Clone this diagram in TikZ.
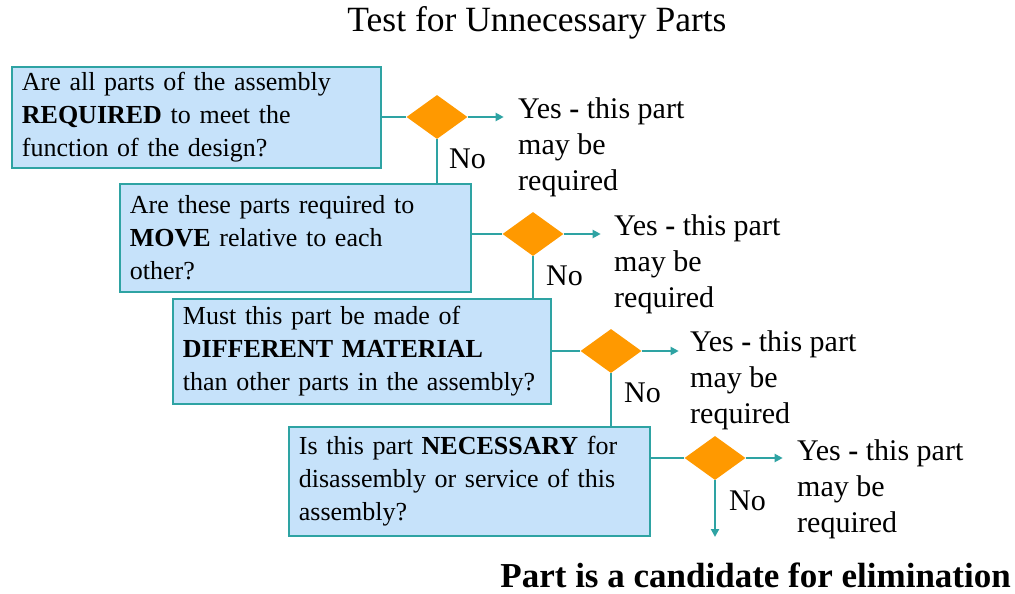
\documentclass[tikz,border=0pt]{standalone}
\usepackage{fontspec}
\setmainfont{Liberation Serif}
\usetikzlibrary{shapes.geometric,arrows.meta}
\definecolor{boxfill}{HTML}{C6E2FA}
\definecolor{teal1}{HTML}{2EA3A3}
\definecolor{orng}{HTML}{FF9900}
\tikzset{
  qbox/.style={draw=teal1, line width=1.8pt, fill=boxfill, anchor=north west, inner xsep=10pt, inner ysep=0pt, align=left, font=\fontsize{26}{33}\selectfont},
  dec/.style={diamond, fill=orng, inner sep=0pt, minimum width=61pt, minimum height=44pt},
  conn/.style={draw=teal1, line width=2pt},
  arr/.style={conn, -{Triangle[length=8pt,width=8pt]}},
  yes/.style={anchor=west, inner sep=0pt, align=left, font=\fontsize{30}{36}\selectfont},
  nolab/.style={anchor=west, inner sep=0pt, font=\fontsize{30}{34}\selectfont},
}
\begin{document}
\begin{tikzpicture}[x=1pt,y=-1pt]
\useasboundingbox (0,0) rectangle (1015,594);
\node[inner sep=0pt, font=\fontsize{35.5}{40}\selectfont] (title) at (537,23) {Test for Unnecessary Parts};

\node[qbox, text width=349pt, minimum height=101pt] (b1) at (11,66) {Are all parts of the assembly\\\textbf{REQUIRED} to meet the\\function of the design?};
\node[qbox, text width=331pt, minimum height=108pt] (b2) at (119,183) {Are these parts required to\\\textbf{MOVE} relative to each\\other?};
\node[qbox, text width=358pt, minimum height=105pt] (b3) at (172,298) {Must this part be made of\\\textbf{DIFFERENT MATERIAL}\\than other parts in the assembly?};
\node[qbox, text width=341pt, minimum height=109pt] (b4) at (288,426) {Is this part \textbf{NECESSARY} for\\disassembly or service of this\\assembly?};

\node[dec] (d1) at (437,117) {};
\node[dec] (d2) at (533,234) {};
\node[dec] (d3) at (611,351) {};
\node[dec] (d4) at (715,458) {};

\node[yes] (y1) at (518,147) {Yes \textbf{-} this part\\may be\\required};
\node[yes] (y2) at (614,264) {Yes \textbf{-} this part\\may be\\required};
\node[yes] (y3) at (690,380) {Yes \textbf{-} this part\\may be\\required};
\node[yes] (y4) at (797,489) {Yes \textbf{-} this part\\may be\\required};

\node[nolab] (n1) at (449,159) {No};
\node[nolab] (n2) at (546,276) {No};
\node[nolab] (n3) at (624,393) {No};
\node[nolab] (n4) at (729,501) {No};

\node[inner sep=0pt, anchor=east, font=\fontsize{35}{40}\selectfont\bfseries] (res) at (1011,575) {Part is a candidate for elimination};

\coordinate (e4) at (715,537);

\draw[conn] (b1.east |- d1) -- (d1.west);
\draw[conn] (b2.east |- d2) -- (d2.west);
\draw[conn] (b3.east |- d3) -- (d3.west);
\draw[conn] (b4.east |- d4) -- (d4.west);

\draw[arr] (d1.east) -- ++(36,0);
\draw[arr] (d2.east) -- ++(37,0);
\draw[arr] (d3.east) -- ++(37,0);
\draw[arr] (d4.east) -- ++(37,0);

\draw[conn] (d1.south) -- (d1.south |- b2.north);
\draw[conn] (d2.south) -- (d2.south |- b3.north);
\draw[conn] (d3.south) -- (d3.south |- b4.north);
\draw[arr] (d4.south) -- (e4);
\end{tikzpicture}
\end{document}
